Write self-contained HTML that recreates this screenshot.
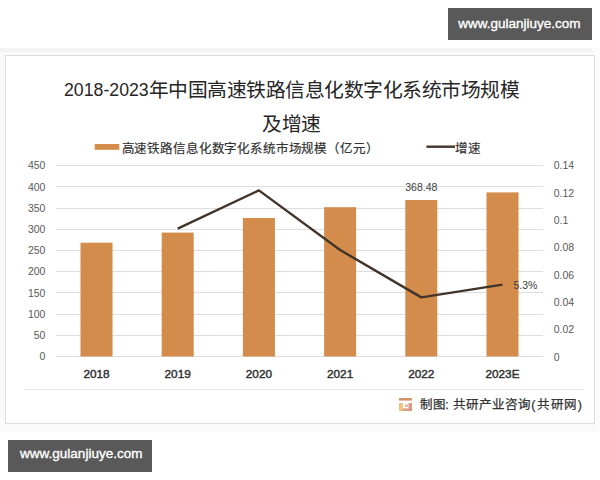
<!DOCTYPE html>
<html lang="zh-CN">
<head>
<meta charset="utf-8">
<style>
html,body{margin:0;padding:0;}
body{width:600px;height:480px;overflow:hidden;background:#fff;position:relative;font-family:"Liberation Sans",sans-serif;}
.abs{position:absolute;white-space:nowrap;}
.outer{position:absolute;left:0;top:48px;width:600px;height:384px;background:#f8f8f8;}
.frame{position:absolute;left:5px;top:55px;width:588px;height:367px;border:1px solid #dcdcdc;background:#fff;}
.wm{position:absolute;background:#595959;}
.wmt{position:absolute;white-space:nowrap;color:#fff;font-size:13.5px;line-height:14px;-webkit-text-stroke:0.35px #fff;}
.title{font-size:19.8px;color:#262626;line-height:34px;letter-spacing:-0.5px;}
.d{display:inline-block;font-size:18.7px;letter-spacing:0;transform:scaleX(0.948);transform-origin:0 0;margin-right:-4.4px;position:relative;top:-1px;}
.leg{font-size:12.5px;color:#333;letter-spacing:-0.15px;-webkit-text-stroke:0.2px #333;}
.yl{font-size:10.5px;color:#595959;line-height:12px;}
.xl{font-size:11.8px;color:#333;line-height:12px;-webkit-text-stroke:0.45px #333;}
.src{position:absolute;white-space:nowrap;top:397.5px;font-size:12.5px;line-height:15px;color:#333;-webkit-text-stroke:0.25px #333;}
</style>
</head>
<body>
<div class="wm" style="left:448px;top:8px;width:144px;height:32px;"></div>
<div class="wmt" style="left:458.2px;top:17.1px;">www.gulanjiuye.com</div>
<div class="outer" style="background:#fafafa;"></div>
<div style="position:absolute;left:0;top:48px;width:592px;height:4px;background:#f4f4f4;"></div>
<div style="position:absolute;left:595px;top:52px;width:5px;height:380px;background:#fcfcfc;"></div>
<div class="frame"></div>

<svg class="abs" style="left:0;top:0" width="600" height="480" viewBox="0 0 600 480">
  <g stroke="#dddddd" stroke-width="1.1">
    <line x1="56" x2="543" y1="165.5" y2="165.5"/>
    <line x1="56" x2="543" y1="186.5" y2="186.5"/>
    <line x1="56" x2="543" y1="208.5" y2="208.5"/>
    <line x1="56" x2="543" y1="229.5" y2="229.5"/>
    <line x1="56" x2="543" y1="250.5" y2="250.5"/>
    <line x1="56" x2="543" y1="271.5" y2="271.5"/>
    <line x1="56" x2="543" y1="292.5" y2="292.5"/>
    <line x1="56" x2="543" y1="314.5" y2="314.5"/>
    <line x1="56" x2="543" y1="335.5" y2="335.5"/>
    <line x1="56" x2="543" y1="356.5" y2="356.5"/>
  </g>
  <g fill="#d38c4b">
    <rect x="80.5" y="242.7" width="32" height="113.8"/>
    <rect x="161.7" y="232.6" width="32" height="123.9"/>
    <rect x="242.9" y="218" width="32" height="138.5"/>
    <rect x="324.1" y="207.2" width="32" height="149.3"/>
    <rect x="405.3" y="200" width="32" height="156.5"/>
    <rect x="486.5" y="192.4" width="32" height="164.1"/>
  </g>
  <polyline points="177.7,228.6 258.9,190.4 340.1,250 421.3,297.4 502.5,284.6" fill="none" stroke="#43342a" stroke-width="2.4" stroke-linejoin="round"/>
  <rect x="94.7" y="144" width="24.6" height="5.8" fill="#d38c4b"/>
  <line x1="426.4" x2="455" y1="146.7" y2="146.7" stroke="#43342a" stroke-width="2.4"/>
  <line x1="25" x2="583" y1="389.5" y2="389.5" stroke="#e6e6e6" stroke-width="1"/>
</svg>

<div class="abs title" style="left:0;width:583px;top:72.7px;text-align:center;"><span class="d">2018-2023</span>年中国高速铁路信息化数字化系统市场规模</div>
<div class="abs title" style="left:0;width:583px;top:106.5px;text-align:center;">及增速</div>

<div class="abs leg" style="left:121.6px;top:138px;">高速铁路信息化数字化系统市场规模（亿元）</div>
<div class="abs leg" style="left:455px;top:138px;">增速</div>

<div class="abs yl" style="right:554.6px;top:159.4px;">450</div>
<div class="abs yl" style="right:554.6px;top:180.6px;">400</div>
<div class="abs yl" style="right:554.6px;top:201.8px;">350</div>
<div class="abs yl" style="right:554.6px;top:223px;">300</div>
<div class="abs yl" style="right:554.6px;top:244.2px;">250</div>
<div class="abs yl" style="right:554.6px;top:265.4px;">200</div>
<div class="abs yl" style="right:554.6px;top:286.6px;">150</div>
<div class="abs yl" style="right:554.6px;top:307.8px;">100</div>
<div class="abs yl" style="right:554.6px;top:329px;">50</div>
<div class="abs yl" style="right:554.6px;top:350.2px;">0</div>

<div class="abs yl" style="left:553.7px;top:159.4px;">0.14</div>
<div class="abs yl" style="left:553.7px;top:186.7px;">0.12</div>
<div class="abs yl" style="left:553.7px;top:214px;">0.1</div>
<div class="abs yl" style="left:553.7px;top:241.3px;">0.08</div>
<div class="abs yl" style="left:553.7px;top:268.6px;">0.06</div>
<div class="abs yl" style="left:553.7px;top:295.9px;">0.04</div>
<div class="abs yl" style="left:553.7px;top:323.2px;">0.02</div>
<div class="abs yl" style="left:553.7px;top:350.5px;">0</div>

<div class="abs xl" style="left:66.5px;width:60px;text-align:center;top:367.5px;">2018</div>
<div class="abs xl" style="left:147.7px;width:60px;text-align:center;top:367.5px;">2019</div>
<div class="abs xl" style="left:228.9px;width:60px;text-align:center;top:367.5px;">2020</div>
<div class="abs xl" style="left:310.1px;width:60px;text-align:center;top:367.5px;">2021</div>
<div class="abs xl" style="left:391.3px;width:60px;text-align:center;top:367.5px;">2022</div>
<div class="abs xl" style="left:472.5px;width:60px;text-align:center;top:367.5px;">2023E</div>

<div class="abs yl" style="left:391.3px;width:60px;text-align:center;top:181px;color:#404040;">368.48</div>
<div class="abs yl" style="left:513.5px;top:279px;color:#404040;">5.3%</div>

<div class="src" style="left:420.2px;">制图</div>
<div class="src" style="left:445.3px;">:</div>
<div class="src" style="left:452.7px;">共研产业咨询</div>
<div class="src" style="left:531.3px;">(</div>
<div class="src" style="left:537px;letter-spacing:0.5px;">共研网</div>
<div class="src" style="left:577.8px;">)</div>
<svg class="abs" style="left:0;top:0" width="600" height="480">
  <rect x="399" y="398" width="13" height="2.6" fill="#d4946a"/>
  <rect x="399" y="403" width="4" height="8" fill="#ecc27c"/>
  <rect x="403" y="408.4" width="9" height="2.6" fill="#dc9a84"/>
  <rect x="408.5" y="403" width="3.5" height="6" fill="#de9888"/>
  <rect x="405" y="404.5" width="3" height="2.5" fill="#eab2a6"/>
</svg>

<div class="wm" style="left:8px;top:440px;width:144px;height:31.6px;"></div>
<div class="wmt" style="left:20.1px;top:447.2px;">www.gulanjiuye.com</div>
</body>
</html>
